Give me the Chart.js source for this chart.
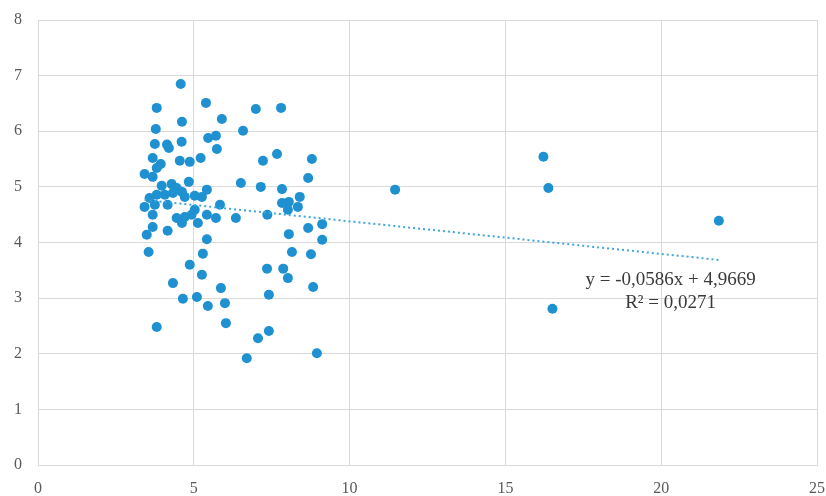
<!DOCTYPE html>
<html>
<head>
<meta charset="utf-8">
<script src="https://cdn.jsdelivr.net/npm/chart.js@4/dist/chart.umd.min.js"></script>
<style>
  html, body { margin: 0; padding: 0; background: #fff; }
  #wrap { width: 826px; height: 496px; }
</style>
</head>
<body>
<div id="wrap"><canvas id="scatter-chart" width="826" height="496"></canvas></div>
<script>
// valores
var xs = [4.58, 3.81, 5.39, 4.62, 5.90, 3.78, 6.58, 6.99, 7.80, 3.75,
          4.14, 4.20, 4.61, 5.46, 5.71, 5.74, 3.68, 3.94, 3.81, 4.55,
          4.87, 5.22, 7.22, 7.67, 8.79, 3.42, 3.68, 8.67, 4.84, 4.29,
          3.97, 4.45, 4.62, 5.42, 6.51, 7.15, 7.83, 3.81, 4.07, 4.33,
          4.71, 5.03, 5.26, 3.58, 8.40, 3.42, 3.75, 4.16, 5.84, 7.83,
          8.05, 8.34, 8.02, 3.68, 4.45, 4.71, 4.93, 5.03, 5.42, 5.71,
          6.35, 7.36, 4.62, 5.13, 3.68, 4.16, 3.49, 5.42, 8.67, 9.12,
          8.05, 9.12, 3.55, 5.29, 8.15, 8.76, 4.87, 5.26, 4.33, 5.87,
          4.65, 5.10, 5.45, 6.00, 3.81, 6.03, 6.70, 7.06, 7.41, 7.41,
          7.35, 7.87, 8.02, 8.83, 8.95, 11.46, 16.22, 16.38, 16.51, 21.85];
var ys = [6.85, 6.42, 6.51, 6.17, 6.22, 6.04, 6.01, 6.40, 6.42, 5.77,
          5.76, 5.70, 5.81, 5.88, 5.92, 5.68, 5.52, 5.41, 5.34, 5.47,
          5.45, 5.52, 5.47, 5.59, 5.50, 5.23, 5.18, 5.16, 5.09, 5.05,
          5.02, 4.98, 4.91, 4.95, 5.07, 5.00, 4.96, 4.86, 4.86, 4.89,
          4.82, 4.84, 4.82, 4.80, 4.82, 4.64, 4.68, 4.68, 4.68, 4.71,
          4.73, 4.64, 4.59, 4.50, 4.44, 4.46, 4.50, 4.59, 4.50, 4.44,
          4.44, 4.50, 4.35, 4.35, 4.28, 4.21, 4.14, 4.06, 4.26, 4.33,
          4.15, 4.05, 3.83, 3.80, 3.83, 3.79, 3.60, 3.42, 3.27, 3.18,
          2.99, 3.02, 2.86, 2.91, 2.48, 2.55, 1.92, 2.28, 2.41, 3.06,
          3.53, 3.53, 3.36, 3.20, 2.01, 4.95, 5.54, 4.98, 2.81, 4.39];

// línea de tendencia (y = -0,0586x + 4,9669)
var pendiente = -0.0586;
var intercepto = 4.9669;
var tendenciaX = [3.42, 21.85];
var ecuacion = ["y = -0,0586x + 4,9669", "R\u00b2 = 0,0271"];

var puntos = xs.map(function (x, i) { return { x: x, y: ys[i] }; });
var tendencia = tendenciaX.map(function (x) { return { x: x, y: pendiente * x + intercepto }; });

var fuente = "'Liberation Serif', 'Times New Roman', serif";

var textoEcuacion = {
  id: 'textoEcuacion',
  afterDatasetsDraw: function (chart) {
    var ctx = chart.ctx;
    var sx = chart.scales.x, sy = chart.scales.y;
    var cx = sx.getPixelForValue(20.3);
    ctx.save();
    ctx.font = "19px " + fuente;
    ctx.fillStyle = "#3a3a3a";
    ctx.textAlign = "center";
    ctx.textBaseline = "middle";
    ctx.fillText(ecuacion[0], cx, sy.getPixelForValue(3.32));
    ctx.fillText(ecuacion[1], cx, sy.getPixelForValue(2.91));
    ctx.restore();
  }
};

new Chart(document.getElementById("scatter-chart"), {
  type: 'scatter',
  data: {
    datasets: [{
        type: 'line',
        data: tendencia,
        borderColor: "#3ea6dc",
        borderWidth: 2,
        borderDash: [2, 3],
        pointRadius: 0,
        fill: false
      }, {
        data: puntos,
        backgroundColor: "#1f91d1",
        borderWidth: 0,
        pointRadius: 5,
        pointHoverRadius: 5
      }
    ]
  },
  options: {
    responsive: false,
    animation: false,
    layout: { padding: { top: 20, right: 9, left: 0, bottom: 0 } },
    plugins: {
      legend: { display: false },
      title: { display: false },
      tooltip: { enabled: false }
    },
    scales: {
      x: {
        type: 'linear',
        min: 0, max: 25,
        ticks: { stepSize: 5, color: "#595959", padding: 14, font: { family: fuente, size: 16 } },
        grid: { color: "#d9d9d9", drawTicks: false },
        border: { color: "#d9d9d9" },
        afterFit: function (s) { s.height = 31; s.paddingLeft = 0; s.paddingRight = 0; }
      },
      y: {
        min: 0, max: 8,
        ticks: { stepSize: 1, color: "#595959", padding: 16, font: { family: fuente, size: 16 } },
        grid: { color: "#d9d9d9", drawTicks: false },
        border: { color: "#d9d9d9" },
        afterFit: function (s) { s.width = 38; s.paddingTop = 0; s.paddingBottom = 0; }
      }
    }
  },
  plugins: [textoEcuacion]
});
</script>
</body>
</html>
